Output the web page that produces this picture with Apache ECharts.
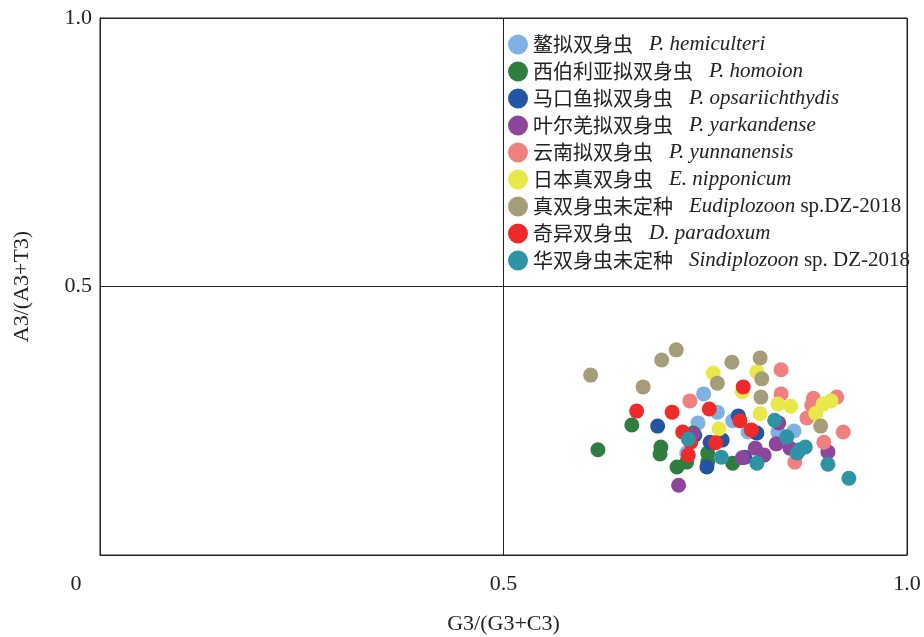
<!DOCTYPE html>
<html>
<head>
<meta charset="utf-8">
<script src="https://cdn.jsdelivr.net/npm/echarts@6/dist/echarts.min.js"></script>
<style>html,body{margin:0;padding:0;background:#fff}#c{width:924px;height:637px}</style>
</head>
<body>
<div id="c"></div>
<script>
// Species names (Chinese, Latin italic part, plain suffix)
const cnNames = ['鳌拟双身虫','西伯利亚拟双身虫','马口鱼拟双身虫','叶尔羌拟双身虫','云南拟双身虫','日本真双身虫','真双身虫未定种','奇异双身虫','华双身虫未定种'];
const latinNames = ['P. hemiculteri','P. homoion','P. opsariichthydis','P. yarkandense','P. yunnanensis','E. nipponicum','Eudiplozoon','D. paradoxum','Sindiplozoon'];
const suffixNames = ['','','','','','',' sp.DZ-2018','',' sp. DZ-2018'];
const colors = ['#7FB2E3','#2F7E3F','#2455A5','#8E459C','#F08080','#E9E84B','#A59D78','#EE2A2A','#2E93A5'];

// x tick labels / y tick labels
const xTicks = [0, 0.5, 1.0];
const yTicks = [0, 0.5, 1.0];

// [G3/(G3+C3), A3/(A3+T3)]
const hemiculteri = [[0.748,0.300],[0.765,0.266],[0.741,0.246],[0.784,0.250],[0.727,0.190],[0.840,0.229],[0.860,0.231],[0.803,0.229]];
const homoion = [[0.617,0.196],[0.659,0.242],[0.695,0.201],[0.694,0.188],[0.715,0.164],[0.727,0.173],[0.753,0.190],[0.753,0.173],[0.784,0.171],[0.735,0.227]];
const opsariichthydis = [[0.691,0.240],[0.737,0.223],[0.756,0.210],[0.771,0.214],[0.752,0.164],[0.791,0.259],[0.814,0.227],[0.799,0.182]];
const yarkandense = [[0.717,0.130],[0.735,0.225],[0.796,0.181],[0.812,0.199],[0.823,0.186],[0.838,0.207],[0.855,0.199],[0.841,0.246],[0.902,0.192]];
const yunnanensis = [[0.731,0.287],[0.844,0.345],[0.844,0.300],[0.884,0.292],[0.882,0.279],[0.913,0.294],[0.876,0.255],[0.921,0.229],[0.897,0.210],[0.861,0.173]];
const nipponicum = [[0.760,0.339],[0.814,0.341],[0.796,0.304],[0.840,0.281],[0.856,0.277],[0.818,0.263],[0.767,0.235],[0.887,0.264],[0.896,0.281],[0.906,0.287]];
const eudiplozoonSp = [[0.608,0.335],[0.673,0.313],[0.696,0.363],[0.714,0.382],[0.765,0.320],[0.783,0.359],[0.818,0.367],[0.820,0.328],[0.819,0.294],[0.893,0.240]];
const paradoxum = [[0.665,0.268],[0.709,0.266],[0.755,0.272],[0.797,0.313],[0.793,0.250],[0.807,0.233],[0.722,0.229],[0.732,0.210],[0.763,0.209],[0.729,0.186]];
const sindiplozoonSp = [[0.729,0.216],[0.770,0.182],[0.814,0.171],[0.836,0.251],[0.851,0.220],[0.864,0.190],[0.874,0.201],[0.867,0.196],[0.902,0.169],[0.928,0.143]];

const allData = [hemiculteri, homoion, opsariichthydis, yarkandense, yunnanensis, nipponicum, eudiplozoonSp, paradoxum, sindiplozoonSp];

const serif = '"Liberation Serif","Times New Roman",serif';
const cjk = '"Noto Sans CJK SC",sans-serif';

const chart = echarts.init(document.getElementById('c'), null, {renderer:'canvas'});
chart.setOption({
  animation: false,
  grid: {left: 100, right: 17, top: 18, bottom: 82, show: true, borderColor: '#222', borderWidth: 1, outerBoundsMode: 'none'},
  xAxis: {
    type: 'value', min: 0, max: 1, interval: 0.5,
    name: 'G3/(G3+C3)', nameLocation: 'middle', nameGap: 58,
    nameTextStyle: {fontFamily: serif, fontSize: 22, color: '#222'},
    axisLine: {show: true, lineStyle: {color: '#222', width: 1}},
    axisTick: {show: false},
    splitLine: {show: true, lineStyle: {color: '#222', width: 1}},
    axisLabel: {
      margin: 18, fontFamily: serif, fontSize: 22, color: '#222',
      formatter: v => v === 0 ? '{z|0}' : (xTicks.indexOf(v) >= 0 ? v.toFixed(1) : ''),
      rich: {z: {fontFamily: serif, fontSize: 22, color: '#222', padding: [0, 48, 0, 0]}}
    }
  },
  yAxis: {
    type: 'value', min: 0, max: 1, interval: 0.5,
    name: 'A3/(A3+T3)', nameLocation: 'middle', nameGap: 67,
    nameTextStyle: {fontFamily: serif, fontSize: 22, color: '#222'},
    axisLine: {show: true, lineStyle: {color: '#222', width: 1}},
    axisTick: {show: false},
    splitLine: {show: true, lineStyle: {color: '#222', width: 1}},
    axisLabel: {
      margin: 8, fontFamily: serif, fontSize: 22, color: '#222',
      formatter: v => (v === 0 || yTicks.indexOf(v) < 0) ? '' : v.toFixed(1)
    }
  },
  legend: {
    orient: 'vertical', left: 508, top: 34, padding: 0,
    itemWidth: 20, itemHeight: 20, itemGap: 6,
    icon: 'circle',
    data: cnNames,
    formatter: name => {
      const i = cnNames.indexOf(name);
      let s = '{cn|' + name + '}{it|' + latinNames[i] + '}';
      if (suffixNames[i]) s += '{n|' + suffixNames[i] + '}';
      return s;
    },
    textStyle: {
      padding: [0, 0, 0, 0],
      rich: {
        cn: {fontFamily: cjk, fontSize: 20, color: '#222', padding: [0, 16, 0, 0], lineHeight: 20},
        it: {fontFamily: serif, fontStyle: 'italic', fontSize: 21, color: '#222', lineHeight: 20},
        n: {fontFamily: serif, fontSize: 21, color: '#222', lineHeight: 20}
      }
    }
  },
  series: allData.map((d, i) => ({
    name: cnNames[i], type: 'scatter', data: d, symbolSize: 15,
    itemStyle: {color: colors[i], opacity: 1},
    z: 2 + i * 0.01
  }))
});
</script>
</body>
</html>
